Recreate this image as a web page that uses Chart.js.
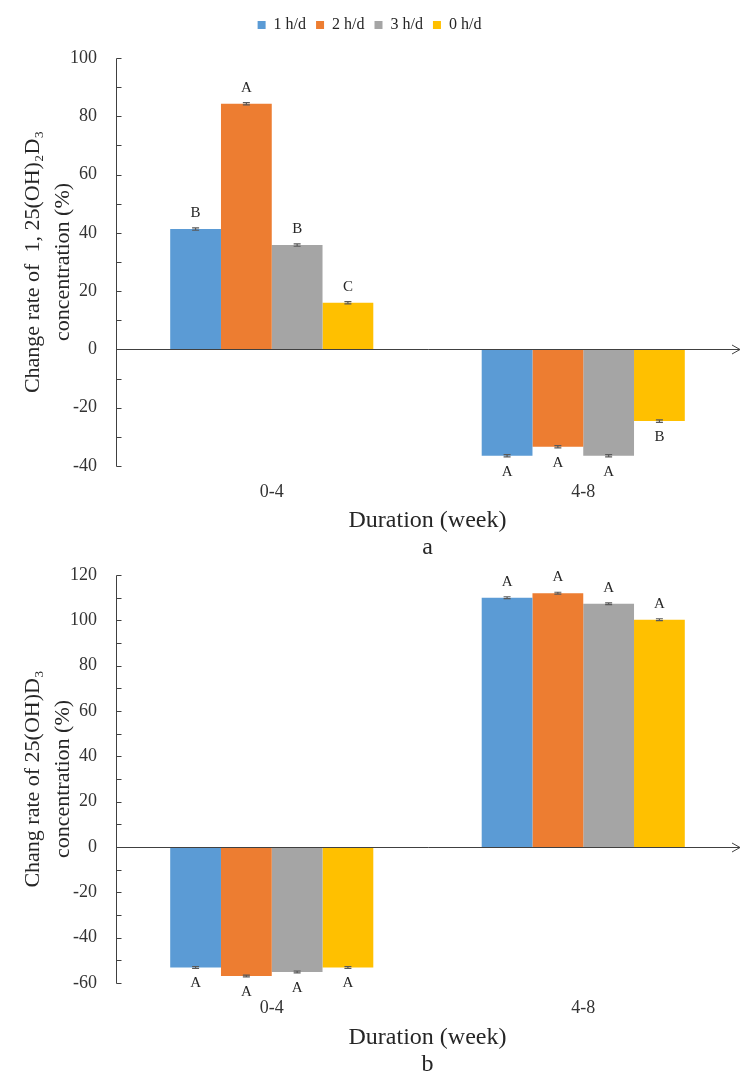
<!DOCTYPE html>
<html>
<head>
<meta charset="UTF-8" />
<title>Change rate of vitamin D3 metabolites</title>
<script src="https://cdn.jsdelivr.net/npm/chart.js@4"></script>
<style>
body { margin:0; background:#fff; }
canvas { position:absolute; left:0; }
#chartA { top:0; }
#chartB { top:562px; }
</style>
</head>
<body>
<canvas id="chartA" width="756" height="562"></canvas>
<canvas id="chartB" width="756" height="523"></canvas>

<script>
const durations = ['0-4', '4-8'];
const groups = ['1 h/d', '2 h/d', '3 h/d', '0 h/d'];
const colors = ['#5B9BD5', '#ED7D31', '#A5A5A5', '#FFC000'];

// panel a: 1,25(OH)2D3 change rate (%)
const a1h = [41.3, -36.5];
const a2h = [84.3, -33.4];
const a3h = [35.8, -36.5];
const a0h = [16.0, -24.6];
const aErr = [[0.4, 0.4], [0.4, 0.4], [0.4, 0.4], [0.4, 0.4]];
const aLetters = [['B', 'A'], ['A', 'A'], ['B', 'A'], ['C', 'B']];
const aTicks = { min: -40, max: 100, step: 10 };

// panel b: 25(OH)D3 change rate (%)
const b1h = [-53.2, 110.0];
const b2h = [-56.9, 112.0];
const b3h = [-55.1, 107.3];
const b0h = [-53.2, 100.3];
const bErr = [[0.4, 0.4], [0.4, 0.4], [0.4, 0.4], [0.4, 0.4]];
const bLetters = [['A', 'A'], ['A', 'A'], ['A', 'A'], ['A', 'A']];
const bTicks = { min: -60, max: 120, step: 10 };

const serif = '"Liberation Serif", "Times New Roman", serif';
const ink = '#404040';

// y axis with inward ticks, zero line with arrow, error caps and letters
const decor = {
  id: 'decor',
  afterDatasetsDraw(chart, args, opts) {
    const ctx = chart.ctx, area = chart.chartArea, y = chart.scales.y;
    ctx.save();
    ctx.strokeStyle = ink;
    ctx.lineWidth = 1;
    const x0 = Math.round(area.left) + 0.5;
    ctx.beginPath();
    ctx.moveTo(x0, Math.round(y.getPixelForValue(y.max)) + 0.5);
    ctx.lineTo(x0, Math.round(y.getPixelForValue(y.min)) + 0.5);
    y.ticks.forEach(t => {
      const py = Math.round(y.getPixelForValue(t.value)) + 0.5;
      ctx.moveTo(x0, py);
      ctx.lineTo(x0 + 5, py);
    });
    ctx.stroke();

    const y0 = Math.round(y.getPixelForValue(0)) + 0.5;
    const xEnd = area.right + 1;
    ctx.beginPath();
    ctx.moveTo(x0, y0);
    ctx.lineTo(xEnd, y0);
    ctx.moveTo(xEnd - 8, y0 - 4.5);
    ctx.lineTo(xEnd, y0);
    ctx.lineTo(xEnd - 8, y0 + 4.5);
    ctx.stroke();

    ctx.font = '15px ' + serif;
    ctx.fillStyle = '#262626';
    ctx.textAlign = 'center';
    ctx.textBaseline = 'middle';
    chart.data.datasets.forEach((ds, i) => {
      chart.getDatasetMeta(i).data.forEach((bar, j) => {
        const v = ds.data[j], e = opts.err[i][j];
        const hi = y.getPixelForValue(v + e), lo = y.getPixelForValue(v - e);
        ctx.strokeStyle = '#595959';
        ctx.lineWidth = 1.2;
        ctx.beginPath();
        ctx.moveTo(bar.x - 3.5, hi); ctx.lineTo(bar.x + 3.5, hi);
        ctx.moveTo(bar.x - 3.5, lo); ctx.lineTo(bar.x + 3.5, lo);
        ctx.moveTo(bar.x, hi); ctx.lineTo(bar.x, lo);
        ctx.stroke();
        const ly = v >= 0 ? hi - 15 : lo + 15;
        ctx.fillText(opts.letters[i][j], bar.x, ly);
      });
    });
    ctx.restore();
  }
};

// extra room under the legend (only when it is shown)
const legendGap = {
  id: 'legendGap',
  beforeLayout(chart, args, opts) {
    const lg = chart.legend;
    if (!lg || lg._gapPatched) return;
    const fit = lg.fit;
    lg.fit = function () {
      fit.call(this);
      if (this.options.display) this.height += opts.extra || 0;
    };
    lg._gapPatched = true;
  }
};

function makeChart(id, series, err, letters, range, yTitle, xTitle, geo) {
  return new Chart(document.getElementById(id), {
    type: 'bar',
    data: {
      labels: durations,
      datasets: groups.map((g, i) => ({
        label: g,
        data: series[i],
        backgroundColor: colors[i],
        borderWidth: 0,
        categoryPercentage: 0.652,
        barPercentage: 1.0
      }))
    },
    options: {
      responsive: false,
      animation: false,
      layout: { padding: { top: geo.top, right: 17, bottom: 0, left: 0 } },
      plugins: {
        legend: {
          display: geo.legend,
          position: 'top',
          labels: { boxWidth: 8, boxHeight: 8, padding: 10, color: '#262626', font: { family: serif, size: 16 } }
        },
        legendGap: { extra: 15 },
        tooltip: { enabled: false },
        decor: { err: err, letters: letters }
      },
      scales: {
        x: {
          grid: { display: false, drawTicks: false },
          border: { display: false },
          ticks: { color: '#333', padding: geo.tickPad, font: { family: serif, size: 18 } },
          title: {
            display: true, text: [xTitle[0], xTitle[1]], color: '#262626',
            font: { family: serif, size: 24, lineHeight: 1.15 },
            padding: { top: 0, bottom: geo.titlePad }
          },
          afterFit(s) { s.height = geo.xHeight; }
        },
        y: {
          min: range.min, max: range.max,
          grid: { display: false, drawTicks: true, tickLength: 19 },
          border: { display: false },
          ticks: {
            stepSize: range.step, autoSkip: false, color: '#333', padding: 0,
            font: { family: serif, size: 18 },
            callback: v => (v % 20 === 0 ? v : '')
          },
          title: {
            display: true, text: yTitle, color: '#262626',
            font: { family: serif, size: 22, lineHeight: 1.36 },
            padding: { top: 18, bottom: 0 }
          },
          afterFit(s) { s.width = 116; }
        }
      }
    },
    plugins: [decor, legendGap]
  });
}

makeChart('chartA', [a1h, a2h, a3h, a0h], aErr, aLetters, aTicks,
  ['Change rate of  1, 25(OH)\u2082D\u2083', 'concentration (%)'],
  ['Duration (week)', 'a'],
  { top: 7, legend: true, tickPad: 15, titlePad: 0, xHeight: 96 });

makeChart('chartB', [b1h, b2h, b3h, b0h], bErr, bLetters, bTicks,
  ['Chang rate of 25(OH)D\u2083', 'concentration (%)'],
  ['Duration (week)', 'b'],
  { top: 13, legend: false, tickPad: 14, titlePad: 6, xHeight: 102 });
</script>
</body>
</html>
